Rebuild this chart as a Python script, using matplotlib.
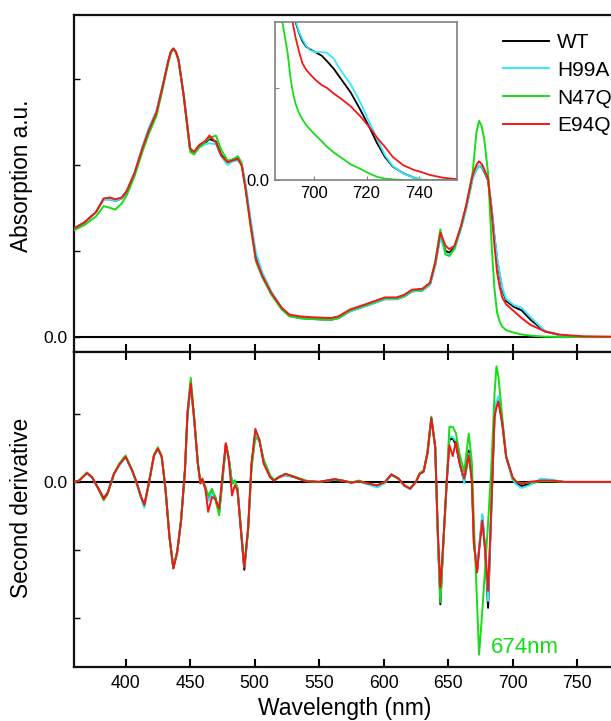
import matplotlib
matplotlib.use('Agg')
import matplotlib.pyplot as plt

plt.rcParams['font.family'] = ['Liberation Sans', 'DejaVu Sans']

# series names and colours
names = ['WT', 'H99A', 'N47Q', 'E94Q']
colors = ['#000000', '#33e8ff', '#16dd16', '#f01818']

# ---- absorption spectra (arbitrary units, 1 unit = one left tick) ----
wl_abs = [360, 368, 377, 383, 388, 392, 397, 401, 407, 413, 418, 424, 429, 433, 435,
          437, 439, 441, 445, 450, 453, 457, 462, 465, 470, 474, 479, 483, 487, 490,
          493, 497, 501, 506, 513, 521, 527, 535, 544, 559, 565, 574, 586, 601,
          610, 616, 622, 630, 636, 640, 644, 648, 651, 655, 660, 664, 669, 672,
          674, 676, 678, 681, 684, 686, 688, 690, 692, 695, 701, 707, 714, 725, 737,
          755, 800]
abs_wt = [1.26, 1.33, 1.45, 1.60, 1.60, 1.58, 1.61, 1.69, 1.90, 2.19, 2.41, 2.62, 2.93, 3.20, 3.31,
          3.35, 3.31, 3.22, 2.81, 2.18, 2.14, 2.22, 2.26, 2.30, 2.27, 2.12, 2.03, 2.06, 2.09, 2.00,
          1.74, 1.32, 0.92, 0.72, 0.51, 0.33, 0.25, 0.22, 0.21, 0.20, 0.22, 0.30, 0.36, 0.44,
          0.44, 0.47, 0.53, 0.54, 0.61, 0.84, 1.18, 1.00, 0.98, 1.04, 1.27, 1.50, 1.85, 1.95,
          1.99, 1.97, 1.92, 1.82, 1.45, 1.15, 0.90, 0.72, 0.55, 0.42, 0.35, 0.31, 0.20, 0.065, 0.02,
          0.0, 0.0]
abs_h99a = [1.26, 1.33, 1.45, 1.60, 1.60, 1.58, 1.61, 1.70, 1.91, 2.21, 2.43, 2.63, 2.94, 3.20, 3.30,
            3.34, 3.30, 3.22, 2.83, 2.20, 2.14, 2.20, 2.24, 2.25, 2.24, 2.10, 2.00, 2.04, 2.05, 2.00,
            1.78, 1.36, 0.98, 0.75, 0.53, 0.34, 0.25, 0.22, 0.21, 0.20, 0.22, 0.30, 0.36, 0.44,
            0.44, 0.47, 0.53, 0.54, 0.61, 0.82, 1.16, 0.97, 0.95, 1.02, 1.25, 1.48, 1.84, 1.95,
            1.99, 1.97, 1.93, 1.83, 1.47, 1.17, 0.92, 0.74, 0.57, 0.44, 0.37, 0.34, 0.23, 0.07, 0.02,
            0.0, 0.0]
abs_n47q = [1.24, 1.30, 1.40, 1.52, 1.50, 1.48, 1.55, 1.65, 1.87, 2.15, 2.36, 2.57, 2.90, 3.18, 3.29,
            3.35, 3.31, 3.22, 2.80, 2.15, 2.12, 2.20, 2.27, 2.31, 2.34, 2.18, 2.05, 2.06, 2.10, 2.02,
            1.72, 1.27, 0.88, 0.69, 0.49, 0.32, 0.24, 0.22, 0.21, 0.20, 0.22, 0.31, 0.37, 0.45,
            0.45, 0.48, 0.54, 0.55, 0.63, 0.88, 1.25, 0.96, 0.94, 1.03, 1.28, 1.52, 1.91, 2.38,
            2.51, 2.45, 2.30, 1.90, 1.00, 0.55, 0.28, 0.18, 0.12, 0.08, 0.05, 0.03, 0.016, 0.004, 0.0,
            0.0, 0.0]
abs_e94q = [1.26, 1.33, 1.45, 1.61, 1.62, 1.60, 1.62, 1.70, 1.91, 2.19, 2.40, 2.61, 2.93, 3.20, 3.31,
            3.35, 3.31, 3.22, 2.81, 2.19, 2.15, 2.23, 2.28, 2.34, 2.26, 2.11, 2.03, 2.05, 2.07, 1.99,
            1.72, 1.29, 0.90, 0.71, 0.51, 0.34, 0.26, 0.24, 0.23, 0.22, 0.24, 0.32, 0.38, 0.46,
            0.46, 0.49, 0.55, 0.56, 0.63, 0.86, 1.21, 1.06, 1.02, 1.06, 1.29, 1.53, 1.88, 2.00,
            2.04, 2.01, 1.95, 1.84, 1.41, 1.05, 0.75, 0.58, 0.46, 0.38, 0.30, 0.22, 0.14, 0.066, 0.027,
            0.008, 0.0]

# ---- inset: red edge of the Qy band ----
wl_ins = [686, 688, 690, 691, 692, 693, 694.3, 695.6, 697, 698.5, 700.5, 703, 705, 707.5,
          710, 714, 717.7, 721.5, 724, 727, 730, 734, 738, 741, 744, 749, 754]
ins_wt = [3.0, 2.7, 2.3, 2.05, 1.85, 1.72, 1.60, 1.51, 1.45, 1.42, 1.39, 1.35, 1.29, 1.21,
          1.11, 0.95, 0.76, 0.55, 0.40, 0.25, 0.145, 0.073, 0.025, 0.0, 0.0, 0.0, 0.0]
ins_h99a = [3.0, 2.7, 2.3, 2.05, 1.85, 1.74, 1.61, 1.53, 1.46, 1.41, 1.39, 1.39, 1.38, 1.32,
            1.20, 1.04, 0.84, 0.60, 0.45, 0.27, 0.15, 0.07, 0.025, 0.005, 0.0, 0.0, 0.0]
ins_n47q = [2.0, 1.72, 1.38, 1.13, 0.95, 0.83, 0.73, 0.66, 0.60, 0.55, 0.49, 0.42, 0.36, 0.30,
            0.25, 0.17, 0.12, 0.065, 0.035, 0.015, 0.007, 0.0, 0.0, 0.0, 0.0, 0.0, 0.0]
ins_e94q = [2.9, 2.5, 2.1, 1.88, 1.70, 1.55, 1.40, 1.27, 1.20, 1.15, 1.09, 1.03, 1.00, 0.94,
            0.89, 0.80, 0.69, 0.56, 0.46, 0.36, 0.25, 0.16, 0.11, 0.085, 0.055, 0.025, 0.01]

# ---- second derivative ----
wl_d2 = [360, 364, 370, 374, 379, 383, 386, 391, 395, 400, 405, 408, 412, 414.5, 418,
         422, 425, 428, 431, 434, 437, 440, 443, 446, 448, 450.5, 453, 456, 458, 459.5,
         462, 464, 467, 469.5, 472.5, 475.5, 477.7, 480, 482.5, 484.6, 486.7, 489, 492,
         495, 497.6, 500.6, 503.7, 507, 512, 515, 519, 524, 531, 540, 550, 562, 568, 575,
         581, 587, 595, 601, 606, 611.5, 616, 620.6, 625, 628, 631, 634, 637, 640, 642,
         644, 646, 649, 651, 653.6, 656, 659, 662.5, 666, 668.4, 670, 672.5, 674, 676.5,
         678.6, 681, 683.6, 686, 687.5, 689, 692, 695, 700, 703, 707, 713, 722, 731, 740, 800]
d2_wt = [0.0, 0.02, 0.13, 0.07, -0.10, -0.24, -0.16, 0.12, 0.25, 0.37, 0.17, 0.02, -0.22, -0.35, -0.02,
         0.39, 0.49, 0.37, -0.12, -0.81, -1.27, -1.03, -0.57, 0.17, 1.00, 1.42, 0.96, 0.27, -0.02, 0.03,
         -0.10, -0.27, -0.15, -0.22, -0.45, 0.12, 0.56, 0.35, -0.03, 0.02, -0.10, -0.62, -1.29,
         -0.70, 0.25, 0.72, 0.62, 0.30, 0.08, 0.02, 0.07, 0.10, 0.07, 0.01, 0.0, 0.04, 0.02, -0.01,
         0.01, -0.02, -0.07, -0.01, 0.11, 0.05, -0.05, -0.10, 0.0, 0.12, 0.15, 0.42, 0.94, 0.52, -0.75,
         -1.80, -1.00, 0.02, 0.62, 0.64, 0.55, 0.27, 0.0, 0.46, 0.05, -0.90, -1.30, -1.00, -0.50,
         -0.98, -1.85, -0.35, 0.96, 1.15, 1.22, 0.86, 0.37, 0.05, -0.02, -0.06, -0.03, 0.02, 0.02, 0.0, 0.0]
d2_h99a = [0.0, 0.02, 0.12, 0.06, -0.11, -0.26, -0.17, 0.11, 0.24, 0.36, 0.16, 0.0, -0.24, -0.38, -0.04,
           0.38, 0.48, 0.37, -0.12, -0.80, -1.26, -1.03, -0.57, 0.16, 0.98, 1.40, 0.95, 0.27, -0.02, 0.03,
           -0.10, -0.28, -0.16, -0.24, -0.44, 0.12, 0.55, 0.35, -0.03, 0.02, -0.10, -0.60, -1.25,
           -0.70, 0.22, 0.70, 0.63, 0.32, 0.09, 0.02, 0.07, 0.10, 0.07, 0.01, 0.0, 0.04, 0.02, -0.01,
           0.01, -0.03, -0.08, -0.02, 0.10, 0.05, -0.06, -0.11, 0.0, 0.12, 0.15, 0.42, 0.92, 0.50, -0.74,
           -1.70, -0.98, 0.03, 0.66, 0.66, 0.60, 0.30, -0.02, 0.42, 0.04, -0.88, -1.28, -0.95, -0.47,
           -0.95, -1.75, -0.30, 1.00, 1.18, 1.26, 0.88, 0.38, 0.03, -0.04, -0.09, -0.05, 0.05, 0.03, 0.0, 0.0]
d2_n47q = [0.0, 0.02, 0.14, 0.07, -0.11, -0.27, -0.18, 0.12, 0.27, 0.39, 0.18, 0.02, -0.22, -0.33, -0.02,
           0.40, 0.51, 0.38, -0.12, -0.80, -1.25, -1.02, -0.55, 0.18, 1.05, 1.53, 1.00, 0.28, -0.01, 0.04,
           -0.08, -0.20, -0.10, -0.25, -0.49, 0.10, 0.55, 0.35, -0.02, 0.02, -0.08, -0.58, -1.24,
           -0.68, 0.20, 0.66, 0.60, 0.33, 0.10, 0.03, 0.08, 0.12, 0.08, 0.02, 0.0, 0.03, 0.02, -0.01,
           0.02, -0.02, -0.05, 0.0, 0.10, 0.05, -0.05, -0.09, 0.0, 0.13, 0.17, 0.45, 0.96, 0.50, -0.80,
           -1.77, -1.05, 0.05, 0.81, 0.81, 0.72, 0.40, 0.15, 0.71, 0.30, -0.60, -1.80, -2.54, -1.90,
           -1.30, -0.60, 0.25, 1.30, 1.70, 1.55, 0.95, 0.38, 0.05, 0.0, -0.02, -0.01, 0.01, 0.01, 0.0, 0.0]
d2_e94q = [0.0, 0.02, 0.13, 0.07, -0.10, -0.25, -0.17, 0.12, 0.25, 0.37, 0.17, 0.02, -0.22, -0.34, -0.02,
           0.39, 0.49, 0.37, -0.12, -0.81, -1.27, -1.03, -0.57, 0.17, 1.01, 1.45, 0.96, 0.27, -0.02, 0.05,
           -0.12, -0.44, -0.22, -0.25, -0.39, 0.17, 0.57, 0.32, -0.20, -0.05, -0.12, -0.62, -1.26,
           -0.67, 0.27, 0.78, 0.62, 0.27, 0.07, 0.02, 0.07, 0.12, 0.07, 0.01, 0.0, 0.04, 0.02, -0.01,
           0.01, -0.02, -0.05, 0.0, 0.11, 0.05, -0.05, -0.10, 0.0, 0.12, 0.15, 0.42, 0.94, 0.52, -0.71,
           -1.55, -0.96, 0.02, 0.54, 0.38, 0.59, 0.27, 0.05, 0.39, 0.02, -0.91, -1.33, -1.00, -0.57,
           -0.96, -1.60, -0.32, 0.96, 1.10, 1.18, 0.86, 0.37, 0.07, 0.0, -0.03, 0.0, 0.02, 0.02, 0.0, 0.0]

abs_all = [abs_wt, abs_h99a, abs_n47q, abs_e94q]
ins_all = [ins_wt, ins_h99a, ins_n47q, ins_e94q]
d2_all = [d2_wt, d2_h99a, d2_n47q, d2_e94q]
xticks_main = [400, 450, 500, 550, 600, 650, 700, 750]

W, H = 611, 721
fig = plt.figure(figsize=(W / 100, H / 100), dpi=100)

left = 74 / W
width = 567.6 / W
ax1 = fig.add_axes([left, 1 - 352 / H, width, 337 / H])
ax2 = fig.add_axes([left, 1 - 667 / H, width, 315 / H])

lw = 1.4
for ys, c, n in zip(abs_all, colors, names):
    ax1.plot(wl_abs, ys, color=c, lw=lw, label=n, zorder=3)
for ys, c in zip(d2_all, colors):
    ax2.plot(wl_d2, ys, color=c, lw=lw, zorder=3)

for ax in (ax1, ax2):
    ax.axhline(0, color='black', lw=1.5, zorder=2)
    ax.set_xlim(360, 800)
    ax.set_xticks(xticks_main)
    ax.spines['right'].set_visible(False)
    for s in ('left', 'top', 'bottom'):
        ax.spines[s].set_linewidth(1.6)
        ax.spines[s].set_color('#111111')
    ax.tick_params(axis='y', direction='in', length=4, width=1.0, labelsize=12.5, pad=5)

ax1.set_ylim(-0.174, 3.74)
ax1.set_yticks([0, 1, 2, 3])
ax1.set_yticklabels(['0.0', '', '', ''])
ax1.tick_params(axis='x', direction='in', bottom=True, top=False, labelbottom=False,
                length=6, width=1.5)
ax1.set_ylabel('Absorption a.u.', fontsize=16.3)
ax1.yaxis.set_label_coords(-0.072, 0.522)

ax2.set_ylim(-2.72, 1.91)
ax2.set_yticks([-2, -1, 0, 1])
ax2.set_yticklabels(['', '', '0.0', ''])
ax2.tick_params(axis='x', direction='in', bottom=True, top=True, labelbottom=True,
                length=6, width=1.5, labelsize=12.7, pad=6)
ax2.set_ylabel('Second derivative', fontsize=16.3)
ax2.yaxis.set_label_coords(-0.072, 0.505)
ax2.set_xlabel('Wavelength (nm)', fontsize=16.5)
ax2.xaxis.set_label_coords(0.477, -0.096)
ax2.text(683, -2.52, '674nm', color=colors[2], fontsize=16, va='baseline')

# inset
axi = fig.add_axes([275 / W, 1 - 180 / H, 182 / W, 158.3 / H])
for ys, c in zip(ins_all, colors):
    axi.plot(wl_ins, ys, color=c, lw=1.3)
axi.set_xlim(685.2, 754.4)
axi.set_ylim(0, 1.72)
axi.set_xticks([700, 720, 740])
axi.set_yticks([0, 1])
axi.set_yticklabels(['0.0', ''])
for s in axi.spines.values():
    s.set_color('#808080')
    s.set_linewidth(1.2)
axi.tick_params(direction='in', length=3, color='#808080', labelsize=12, pad=4)

fig.legend(loc='upper left', bbox_to_anchor=(503 / W, 1 - 33 / H), frameon=False,
           fontsize=15, handlelength=2.2, handletextpad=0.4, labelspacing=0.42,
           borderpad=0, borderaxespad=0)

fig.savefig('out.png', dpi=100)
